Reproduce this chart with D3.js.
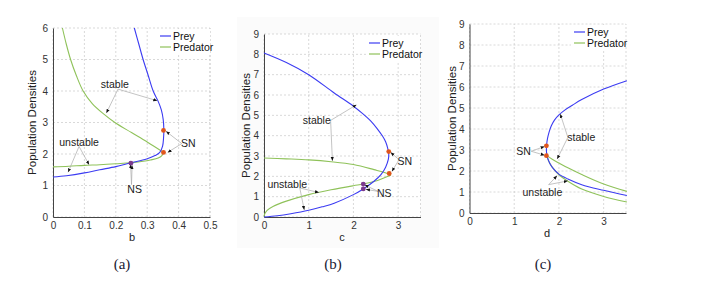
<!DOCTYPE html>
<html>
<head>
<meta charset="utf-8">
<script src="https://cdn.jsdelivr.net/npm/d3@7"></script>
<style>
  body { margin: 0; background: #fff; }
  svg text { font-family: "Liberation Sans", Arial, sans-serif; }
  .tick text { fill: #333; font-size: 10px; }
  .caption { font-family: "Liberation Serif", "Times New Roman", serif !important; font-size: 15px; fill: #1a1a33; }
</style>
</head>
<body>
<div id="chart"></div>
<script>
var width = 702;
var height = 287;

// ---- panel (a): b vs densities ----
var preyA = [[0,1.27],[0.043,1.31],[0.1,1.40],[0.149,1.50],[0.2,1.60],[0.247,1.72],[0.298,1.84],[0.325,1.95],[0.34,2.05],[0.349,2.25],[0.352,2.5],[0.353,2.77],[0.351,3.09],[0.345,3.4],[0.335,3.67],[0.319,4.0],[0.303,4.5],[0.287,5.0],[0.273,5.5],[0.259,6.0]];
var predAUpper = [[0.03,6.0],[0.042,5.5],[0.056,5.0],[0.074,4.5],[0.096,4.0],[0.125,3.6],[0.16,3.28],[0.197,3.0],[0.25,2.68],[0.3,2.38],[0.352,2.05]];
var predALower = [[0.352,2.05],[0.346,1.94],[0.335,1.87],[0.31,1.81],[0.287,1.77],[0.247,1.72],[0.2,1.69],[0.149,1.66],[0.1,1.64],[0.05,1.61],[0,1.59]];
var snA = [[0.352,2.75],[0.352,2.05]];
var nsA = [[0.248,1.71]];
var notesA = [
  {text: "stable", at: [0.197,4.2], from: [0.207,4.06], to: [[0.332,3.69],[0.17,3.3]]},
  {text: "unstable", at: [0.083,2.38], from: [0.083,2.24], to: [[0.048,1.42],[0.115,1.66]]},
  {text: "SN", at: [0.431,2.33], from: [0.41,2.33], to: [[0.36,2.72],[0.365,2.05]]},
  {text: "NS", at: [0.26,0.87], from: [0.25,1.03], to: [[0.247,1.68],[0.252,1.64]]}
];

// ---- panel (b): c vs densities ----
var preyB = [[0,0],[0.3,0.06],[0.6,0.16],[1,0.33],[1.3,0.5],[1.57,0.68],[2,1.1],[2.22,1.38],[2.46,1.76],[2.62,2.1],[2.72,2.45],[2.78,2.83],[2.79,3.1],[2.77,3.35],[2.72,3.7],[2.65,3.98],[2.53,4.35],[2.39,4.72],[2.2,5.1],[2,5.45],[1.57,6.1],[1,7.0],[0.5,7.6],[0,8.07]];
var predBUpper = [[0,2.9],[0.5,2.86],[1,2.81],[1.5,2.72],[2,2.58],[2.46,2.33],[2.78,2.13],[2.84,2.06]];
var predBLower = [[2.84,2.06],[2.54,1.8],[2.22,1.62],[2,1.54],[1.5,1.34],[1,1.1],[0.5,0.78],[0.2,0.52],[0.07,0.33],[0.02,0.17],[0,0.02]];
var snB = [[2.79,3.22],[2.8,2.14]];
var nsB = [[2.22,1.62],[2.22,1.38]];
var notesB = [
  {text: "stable", at: [1.18,4.75], from: [1.49,4.75], to: [[2.07,5.52],[1.53,2.76]]},
  {text: "unstable", at: [0.52,1.59], from: [0.8,1.43], to: [[1.23,1.2],[0.9,0.35]]},
  {text: "SN", at: [3.15,2.74], from: [3.02,2.82], to: [[2.83,3.18],[2.86,2.24]]},
  {text: "NS", at: [2.69,1.18], from: [2.55,1.26], to: [[2.25,1.58],[2.28,1.36]]}
];

// ---- panel (c): d vs densities ----
var preyC = [[3.52,0.83],[3,1.08],[2.51,1.35],[2.2,1.62],[2,1.85],[1.88,2.1],[1.8,2.35],[1.75,2.6],[1.725,2.85],[1.72,3.0],[1.725,3.25],[1.745,3.55],[1.78,3.85],[1.83,4.15],[1.9,4.42],[2.0,4.67],[2.13,4.9],[2.3,5.13],[2.51,5.4],[3,5.9],[3.52,6.3]];
var predCUpper = [[3.52,1.03],[3,1.38],[2.51,1.83],[2.2,2.15],[2,2.38],[1.85,2.56],[1.73,2.73]];
var predCLower = [[1.73,2.73],[1.76,2.52],[1.82,2.28],[1.9,2.05],[2.0,1.82],[2.2,1.51],[2.51,1.14],[3,0.79],[3.52,0.52]];
var snC = [[1.72,3.2],[1.72,2.73]];
var nsC = [];
var notesC = [
  {text: "SN", at: [1.21,2.94], from: [1.38,2.94], to: [[1.68,3.17],[1.68,2.75]]},
  {text: "stable", at: [2.5,3.6], from: [2.2,3.6], to: [[2.03,4.72],[1.96,2.57]]},
  {text: "unstable", at: [1.63,1.0], from: [1.77,1.35], to: [[1.96,1.78],[2.2,1.53]]}
];

var seriesNames = ["Prey", "Predator"];
var colors = {Prey: "#3b3bf2", Predator: "#8fc25a"};

var panels = [
  {x: [53,210], y: [217,28], xDom: [0,0.5], yDom: [0,6], xTicks: [0,0.1,0.2,0.3,0.4,0.5], yTicks: [0,1,2,3,4,5,6],
   xLabel: "b", caption: "(a)", capX: 122, labX: 132, prey: preyA, pred: [predAUpper, predALower], sn: snA, ns: nsA, notes: notesA,
   legend: [157,29], ylabX: 36},
  {x: [264,420.5], y: [217,34], xDom: [0,3.5], yDom: [0,9], xTicks: [0,1,2,3], yTicks: [0,1,2,3,4,5,6,7,8,9],
   xLabel: "c", caption: "(b)", capX: 333, labX: 342, prey: preyB, pred: [predBUpper, predBLower], sn: snB, ns: nsB, notes: notesB,
   legend: [366,36], ylabX: 250, bg: true},
  {x: [469.5,626], y: [213,24], xDom: [0,3.5], yDom: [0,9], xTicks: [0,1,2,3], yTicks: [0,1,2,3,4,5,6,7,8,9],
   xLabel: "d", caption: "(c)", capX: 543, labX: 547, prey: preyC, pred: [predCUpper, predCLower], sn: snC, ns: nsC, notes: notesC,
   legend: [571,25], ylabX: 456}
];

var svg = d3.select("#chart").append("svg")
    .attr("width", width)
    .attr("height", height);

var defs = svg.append("defs");
defs.append("marker")
    .attr("id", "head")
    .attr("viewBox", "0 0 10 10")
    .attr("refX", 10).attr("refY", 5)
    .attr("markerWidth", 4).attr("markerHeight", 4)
    .attr("markerUnits", "userSpaceOnUse")
    .attr("orient", "auto")
    .append("path")
    .attr("d", "M0,1 L10,5 L0,9 Z")
    .attr("fill", "#111");

var fmt = d3.format("~g");

panels.forEach(function(p) {
    var xScale = d3.scaleLinear().domain(p.xDom).range(p.x);
    var yScale = d3.scaleLinear().domain(p.yDom).range(p.y);
    var g = svg.append("g");

    if (p.bg) {
        g.append("rect").attr("x", 237).attr("y", 17).attr("width", 202).attr("height", 231)
            .attr("fill", "#fbfbfb");
        g.append("rect").attr("x", p.x[0]).attr("y", p.y[1]).attr("width", p.x[1]-p.x[0]).attr("height", p.y[0]-p.y[1])
            .attr("fill", "#fff");
    }

    // grid
    g.selectAll(".vgrid").data(p.xTicks.concat([p.xDom[1]])).enter().append("line")
        .attr("x1", function(d) { return xScale(d); }).attr("x2", function(d) { return xScale(d); })
        .attr("y1", p.y[0]).attr("y2", p.y[1])
        .attr("stroke", "#c8c8c8").attr("stroke-width", 0.7).attr("stroke-dasharray", "2,2");
    g.selectAll(".hgrid").data(p.yTicks).enter().append("line")
        .attr("y1", function(d) { return yScale(d); }).attr("y2", function(d) { return yScale(d); })
        .attr("x1", p.x[0]).attr("x2", p.x[1])
        .attr("stroke", "#c8c8c8").attr("stroke-width", 0.7).attr("stroke-dasharray", "2,2");

    // axes
    var xAxis = d3.axisBottom(xScale).tickValues(p.xTicks).tickSize(0).tickPadding(5).tickFormat(fmt);
    var yAxis = d3.axisLeft(yScale).tickValues(p.yTicks).tickSize(0).tickPadding(5).tickFormat(fmt);
    g.append("g").attr("transform", "translate(0," + p.y[0] + ")").call(xAxis)
        .call(function(a) { a.select(".domain").attr("stroke", "#444"); });
    g.append("g").attr("transform", "translate(" + p.x[0] + ",0)").call(yAxis)
        .call(function(a) { a.select(".domain").attr("stroke", "#444"); });

    // curves
    var line = d3.line()
        .x(function(d) { return xScale(d[0]); })
        .y(function(d) { return yScale(d[1]); })
        .curve(d3.curveCatmullRom.alpha(0.5));
    p.pred.forEach(function(branch) {
        g.append("path").datum(branch).attr("d", line).attr("fill", "none")
            .attr("stroke", colors.Predator).attr("stroke-width", 1.1);
    });
    g.append("path").datum(p.prey).attr("d", line).attr("fill", "none")
        .attr("stroke", colors.Prey).attr("stroke-width", 1.1);

    // annotations
    p.notes.forEach(function(n) {
        n.to.forEach(function(t) {
            g.append("line")
                .attr("x1", xScale(n.from[0])).attr("y1", yScale(n.from[1]))
                .attr("x2", xScale(t[0])).attr("y2", yScale(t[1]))
                .attr("stroke", "#aaa").attr("stroke-width", 0.7)
                .attr("marker-end", "url(#head)");
        });
        g.append("text").attr("x", xScale(n.at[0])).attr("y", yScale(n.at[1]))
            .attr("dy", "0.35em").attr("text-anchor", "middle")
            .attr("font-size", 10.5).attr("fill", "#222").text(n.text);
    });

    // special points
    g.selectAll(".sn").data(p.sn).enter().append("circle")
        .attr("cx", function(d) { return xScale(d[0]); })
        .attr("cy", function(d) { return yScale(d[1]); })
        .attr("r", 2.4).attr("fill", "#e0561c");
    g.selectAll(".ns").data(p.ns).enter().append("circle")
        .attr("cx", function(d) { return xScale(d[0]); })
        .attr("cy", function(d) { return yScale(d[1]); })
        .attr("r", 2.4).attr("fill", "#7b3a8e");

    // legend
    var lg = g.append("g").attr("transform", "translate(" + p.legend[0] + "," + p.legend[1] + ")");
    lg.append("rect").attr("width", 53).attr("height", 25).attr("fill", "#fff");
    seriesNames.forEach(function(s, i) {
        lg.append("line").attr("x1", 3).attr("x2", 14).attr("y1", 7 + i*11).attr("y2", 7 + i*11)
            .attr("stroke", colors[s]).attr("stroke-width", 1.2);
        lg.append("text").attr("x", 16).attr("y", 7 + i*11).attr("dy", "0.35em")
            .attr("font-size", 10.5).attr("fill", "#111").text(s);
    });

    // labels
    g.append("text").attr("x", p.labX).attr("y", p.y[0] + 24).attr("text-anchor", "middle")
        .attr("font-size", 11).attr("fill", "#222").text(p.xLabel);
    g.append("text").attr("transform", "translate(" + p.ylabX + "," + ((p.y[0]+p.y[1])/2) + ") rotate(-90)")
        .attr("text-anchor", "middle").attr("font-size", 11.5).attr("fill", "#222")
        .text("Population Densities");
    g.append("text").attr("class", "caption").attr("x", p.capX).attr("y", 269)
        .attr("text-anchor", "middle").text(p.caption);
});
</script>
</body>
</html>
